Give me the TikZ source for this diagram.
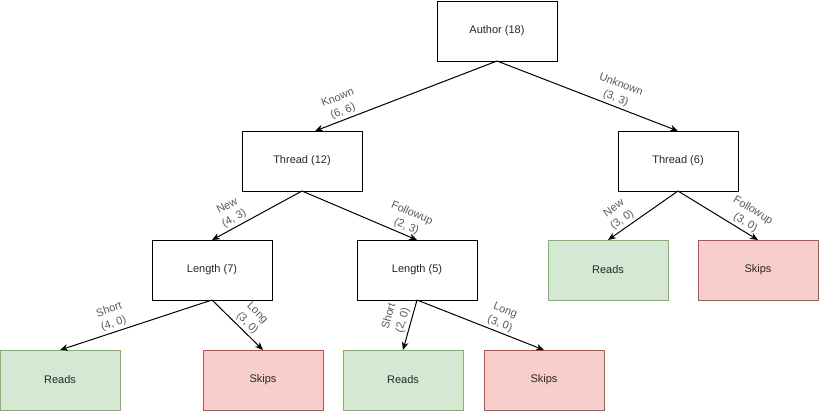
\documentclass[tikz,border=0pt]{standalone}
\usepackage{fontspec}
\setmainfont{Liberation Sans}
\usetikzlibrary{arrows.meta}
\definecolor{readfill}{HTML}{D5E8D4}
\definecolor{readline}{HTML}{82B366}
\definecolor{skipfill}{HTML}{F8CECC}
\definecolor{skipline}{HTML}{B85450}

\begin{document}
\begin{tikzpicture}[x=0.75pt,y=-0.75pt]
\tikzset{
  box/.style={draw,line width=0.75pt,minimum width=90pt,minimum height=45pt,
    inner sep=0pt,outer sep=0pt,text=black!85,font=\fontsize{8.25}{10}\selectfont},
  reads/.style={box,fill=readfill,draw=readline},
  skips/.style={box,fill=skipfill,draw=skipline},
  edge/.style={line width=0.75pt,-{Stealth[length=6pt,width=5pt]}},
  lab/.style={sloped,above,inner sep=1.8pt,align=center,text=black!65,
    font=\fontsize{8.25}{10.8}\selectfont}
}
\useasboundingbox (0,0) rectangle (819,412);
% splits
\node[box] (author) at (497,31) {Author (18)};
\node[box] (thr12) at (302,161) {Thread (12)};
\node[box] (thr6) at (678,161) {Thread (6)};
\node[box] (len7) at (212,270) {Length (7)};
\node[box] (len5) at (417,270) {Length (5)};
% leaves
\node[reads] (readsA) at (608,270) {Reads};
\node[skips] (skipsA) at (758,270) {Skips};
\node[reads] (readsB) at (60,380) {Reads};
\node[skips] (skipsB) at (263,380) {Skips};
\node[reads] (readsC) at (403,380) {Reads};
\node[skips] (skipsC) at (544,380) {Skips};

\draw[edge] (author.south) -- node[lab,pos=.83]{Known\\(6, 6)} ([xshift=9.75pt]thr12.north);
\draw[edge] (author.south) -- node[lab,pos=.64]{Unknown\\(3, 3)} (thr6.north);
\draw[edge] (thr12.south) -- node[lab,pos=.71]{New\\(4, 3)} (len7.north);
\draw[edge] (thr12.south) -- node[lab,pos=.88]{Followup\\(2, 3)} (len5.north);
\draw[edge] (thr6.south) -- node[lab,pos=.73]{New\\(3, 0)} (readsA.north);
\draw[edge] (thr6.south) -- node[lab,pos=.79]{Followup\\(3, 0)} (skipsA.north);
\draw[edge] (len7.south) -- node[lab,pos=.63]{Short\\(4, 0)} (readsB.north);
\draw[edge] (len7.south) -- node[lab,pos=.58]{Long\\(3, 0)} (skipsB.north);
\draw[edge] (len5.south) -- node[lab,pos=.45]{Short\\(2, 0)} (readsC.north);
\draw[edge] (len5.south) -- node[lab,pos=.63]{Long\\(3, 0)} (skipsC.north);
\end{tikzpicture}
\end{document}
